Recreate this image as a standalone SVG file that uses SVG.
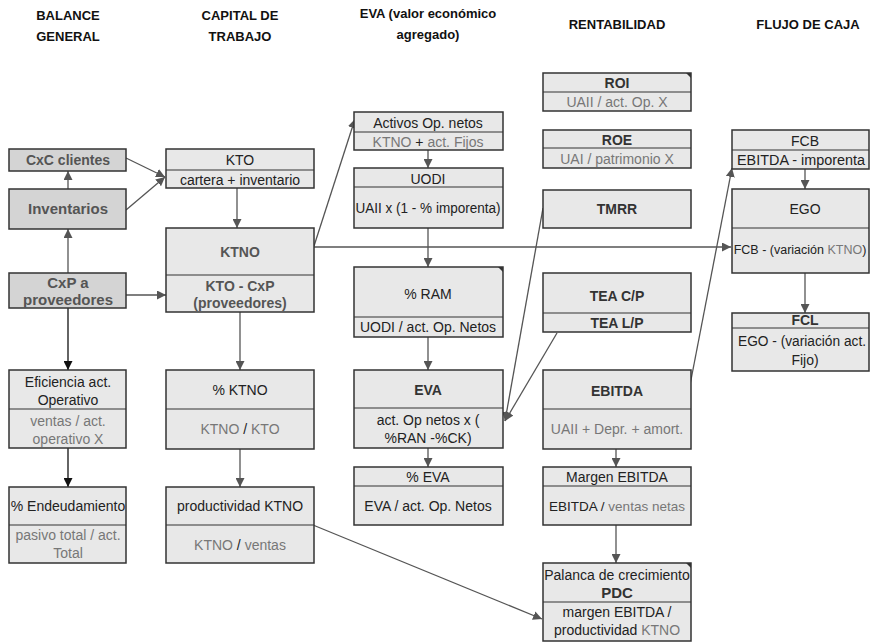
<svg xmlns="http://www.w3.org/2000/svg" width="871" height="642" viewBox="0 0 871 642">
<defs>
<marker id="ah" viewBox="0 0 10 10" refX="10" refY="5" markerWidth="9" markerHeight="9" markerUnits="userSpaceOnUse" orient="auto"><path d="M0,0 L10,5 L0,10 z" fill="#555"/></marker>
<marker id="ahk" viewBox="0 0 10 10" refX="10" refY="5" markerWidth="9" markerHeight="9" markerUnits="userSpaceOnUse" orient="auto"><path d="M0,0 L10,5 L0,10 z" fill="#111"/></marker>
<style>
text{font-family:"Liberation Sans Narrow","Liberation Sans",Arial,sans-serif;text-anchor:middle;fill:#222;font-size:14px}
.hd{font-weight:bold;font-size:13px;fill:#111}
.bx{fill:#e8e8e8;stroke:#333;stroke-width:1.5}
.dk{fill:#d4d4d4;stroke:#333;stroke-width:1.5}
.dv{stroke:#333;stroke-width:1.2}
.b{font-weight:bold;fill:#333}
.bg{font-weight:bold;fill:#555}
.g{fill:#777}
.c{fill:none;stroke:#555;stroke-width:1.3}
.ck{fill:none;stroke:#111;stroke-width:1.3}
.tri{fill:#333}
</style>
</defs>

<g id="headers">
<text class="hd" x="68" y="20">BALANCE</text><text class="hd" x="68" y="41">GENERAL</text>
<text class="hd" x="240" y="20">CAPITAL DE</text><text class="hd" x="240" y="41">TRABAJO</text>
<text class="hd" x="428" y="18">EVA (valor económico</text><text class="hd" x="428" y="39">agregado)</text>
<text class="hd" x="617" y="29">RENTABILIDAD</text>
<text class="hd" x="808" y="29">FLUJO DE CAJA</text>
</g>

<g id="connectors">
<line class="c" x1="68" y1="189" x2="68" y2="171" marker-end="url(#ah)"/>
<line class="c" x1="68" y1="273" x2="68" y2="229" marker-end="url(#ah)"/>
<line class="ck" x1="68" y1="308" x2="68" y2="370" marker-end="url(#ahk)"/>
<line class="ck" x1="68" y1="448" x2="68" y2="487" marker-end="url(#ahk)"/>
<line class="c" x1="126" y1="158" x2="165" y2="177" marker-end="url(#ah)"/>
<line class="c" x1="126" y1="210" x2="165" y2="177" marker-end="url(#ah)"/>
<line class="c" x1="126" y1="295" x2="166" y2="295" marker-end="url(#ah)"/>
<line class="c" x1="237" y1="188" x2="237" y2="228" marker-end="url(#ah)"/>
<line class="c" x1="240" y1="312" x2="240" y2="370" marker-end="url(#ah)"/>
<line class="c" x1="240" y1="449" x2="240" y2="487" marker-end="url(#ah)"/>
<line class="c" x1="314" y1="246" x2="355" y2="119" marker-end="url(#ah)"/>
<line class="c" x1="314" y1="247" x2="731" y2="247" marker-end="url(#ah)"/>
<line class="c" x1="428" y1="150" x2="428" y2="168" marker-end="url(#ah)"/>
<line class="c" x1="428" y1="226" x2="428" y2="267" marker-end="url(#ah)"/>
<line class="c" x1="428" y1="337" x2="428" y2="370" marker-end="url(#ah)"/>
<line class="c" x1="428" y1="448" x2="428" y2="467" marker-end="url(#ah)"/>
<line class="c" x1="543" y1="208" x2="505" y2="421" marker-end="url(#ah)"/>
<line class="c" x1="557" y1="333" x2="505" y2="421" marker-end="url(#ah)"/>
<line class="c" x1="616" y1="449" x2="616" y2="467" marker-end="url(#ah)"/>
<line class="c" x1="616" y1="525" x2="616" y2="563" marker-end="url(#ah)"/>
<line class="c" x1="313" y1="525" x2="542" y2="619" marker-end="url(#ah)"/>
<line class="c" x1="690" y1="385" x2="732" y2="168" marker-end="url(#ah)"/>
<line class="c" x1="805" y1="169" x2="805" y2="189" marker-end="url(#ah)"/>
<line class="c" x1="805" y1="273" x2="805" y2="313" marker-end="url(#ah)"/>
</g>

<g id="cxc"><rect class="dk" x="9" y="149" width="117" height="22"/><text class="bg" x="68" y="165">CxC clientes</text></g>
<g id="inventarios"><rect class="dk" x="9" y="189" width="117" height="40"/><text class="bg" x="68" y="214" style="font-size:15px">Inventarios</text></g>
<g id="cxp"><rect class="dk" x="9" y="273" width="117" height="35"/><text class="bg" x="68" y="288" style="font-size:15px">CxP a</text><text class="bg" x="68" y="305" style="font-size:15px">proveedores</text></g>
<g id="eficiencia"><rect class="bx" x="9" y="370" width="117" height="78"/><line class="dv" x1="9" y1="409" x2="126" y2="409"/><text x="68" y="387">Eficiencia act.</text><text x="68" y="405">Operativo</text><text class="g" x="68" y="426">ventas / act.</text><text class="g" x="68" y="444">operativo X</text></g>
<g id="endeudamiento"><rect class="bx" x="9" y="487" width="117" height="76"/><line class="dv" x1="9" y1="525" x2="126" y2="525"/><text x="68" y="511">% Endeudamiento</text><text class="g" x="68" y="540">pasivo total / act.</text><text class="g" x="68" y="558">Total</text></g>

<g id="kto"><rect class="bx" x="166" y="149" width="148" height="39"/><line class="dv" x1="166" y1="170" x2="314" y2="170"/><text x="240" y="165">KTO</text><text x="240" y="185">cartera + inventario</text></g>
<g id="ktno"><rect class="bx" x="166" y="228" width="148" height="84"/><line class="dv" x1="166" y1="275" x2="314" y2="275"/><text class="bg" x="240" y="257">KTNO</text><text class="bg" x="240" y="291">KTO - CxP</text><text class="bg" x="240" y="308">(proveedores)</text></g>
<g id="pktno"><rect class="bx" x="166" y="370" width="148" height="79"/><line class="dv" x1="166" y1="409" x2="314" y2="409"/><text x="240" y="395">% KTNO</text><text x="240" y="434"><tspan class="g">KTNO</tspan> / <tspan class="g">KTO</tspan></text></g>
<g id="productividad"><rect class="bx" x="166" y="487" width="148" height="76"/><line class="dv" x1="166" y1="525" x2="314" y2="525"/><text x="240" y="511">productividad KTNO</text><text x="240" y="550"><tspan class="g">KTNO</tspan> / <tspan class="g">ventas</tspan></text></g>

<g id="activos"><rect class="bx" x="354" y="112" width="149" height="38"/><line class="dv" x1="354" y1="132" x2="503" y2="132"/><text x="428" y="128">Activos Op. netos</text><text x="428" y="147"><tspan class="g">KTNO</tspan> + <tspan class="g">act. Fijos</tspan></text></g>
<g id="uodi"><rect class="bx" x="354" y="168" width="149" height="60"/><line class="dv" x1="354" y1="187" x2="503" y2="187"/><text x="428" y="184">UODI</text><text x="428" y="213" textLength="145" lengthAdjust="spacingAndGlyphs">UAII x (1 - % imporenta)</text></g>
<g id="ram"><rect class="bx" x="354" y="267" width="149" height="70"/><line class="dv" x1="354" y1="317" x2="503" y2="317"/><text x="428" y="299">% RAM</text><text x="428" y="332">UODI / act. Op. Netos</text><polygon class="tri" points="498,267 503,267 503,272"/></g>
<g id="eva"><rect class="bx" x="354" y="370" width="149" height="78"/><line class="dv" x1="354" y1="408" x2="503" y2="408"/><text class="b" x="428" y="395">EVA</text><text x="428" y="425">act. Op netos x (</text><text x="428" y="443">%RAN -%CK)</text></g>
<g id="peva"><rect class="bx" x="354" y="467" width="149" height="58"/><line class="dv" x1="354" y1="486" x2="503" y2="486"/><text x="428" y="482">% EVA</text><text x="428" y="511">EVA / act. Op. Netos</text></g>

<g id="roi"><rect class="bx" x="543" y="73" width="148" height="38"/><line class="dv" x1="543" y1="92" x2="691" y2="92"/><text class="b" x="617" y="88">ROI</text><text class="g" x="617" y="107">UAII / act. Op. X</text><polygon class="tri" points="686,73 691,73 691,78"/></g>
<g id="roe"><rect class="bx" x="543" y="130" width="148" height="38"/><line class="dv" x1="543" y1="148" x2="691" y2="148"/><text class="b" x="617" y="145">ROE</text><text class="g" x="617" y="164">UAI / patrimonio X</text></g>
<g id="tmrr"><rect class="bx" x="543" y="190" width="148" height="38"/><text class="b" x="617" y="214">TMRR</text></g>
<g id="tea"><rect class="bx" x="543" y="273" width="148" height="59"/><line class="dv" x1="543" y1="313" x2="691" y2="313"/><text class="b" x="617" y="301">TEA C/P</text><text class="b" x="617" y="328">TEA L/P</text></g>
<g id="ebitda"><rect class="bx" x="543" y="370" width="148" height="79"/><line class="dv" x1="543" y1="409" x2="691" y2="409"/><text class="b" x="617" y="396">EBITDA</text><text class="g" x="617" y="434">UAII + Depr. + amort.</text></g>
<g id="margen"><rect class="bx" x="543" y="467" width="148" height="58"/><line class="dv" x1="543" y1="486" x2="691" y2="486"/><text x="617" y="482">Margen EBITDA</text><text x="617" y="511" style="font-size:13.5px">EBITDA / <tspan class="g">ventas netas</tspan></text></g>
<g id="pdc"><rect class="bx" x="543" y="563" width="148" height="78"/><line class="dv" x1="543" y1="602" x2="691" y2="602"/><text x="617" y="580">Palanca de crecimiento</text><text class="b" x="617" y="598" style="font-size:15px">PDC</text><text x="617" y="617">margen EBITDA /</text><text x="617" y="635">productividad <tspan class="g">KTNO</tspan></text><polygon class="tri" points="686,563 691,563 691,568"/></g>

<g id="fcb"><rect class="bx" x="732" y="130" width="137" height="39"/><line class="dv" x1="732" y1="150" x2="869" y2="150"/><text x="805" y="146">FCB</text><text x="801" y="165" textLength="128" lengthAdjust="spacingAndGlyphs">EBITDA - imporenta</text></g>
<g id="ego"><rect class="bx" x="732" y="189" width="137" height="84"/><line class="dv" x1="732" y1="228" x2="869" y2="228"/><text x="805" y="214">EGO</text><text x="800" y="254" style="font-size:12.5px">FCB - (variación <tspan class="g">KTNO</tspan>)</text></g>
<g id="fcl"><rect class="bx" x="732" y="313" width="137" height="58"/><line class="dv" x1="732" y1="328" x2="869" y2="328"/><text class="b" x="805" y="325">FCL</text><text x="802" y="346" textLength="128" lengthAdjust="spacingAndGlyphs">EGO - (variación act.</text><text x="805" y="365">Fijo)</text></g>
</svg>
